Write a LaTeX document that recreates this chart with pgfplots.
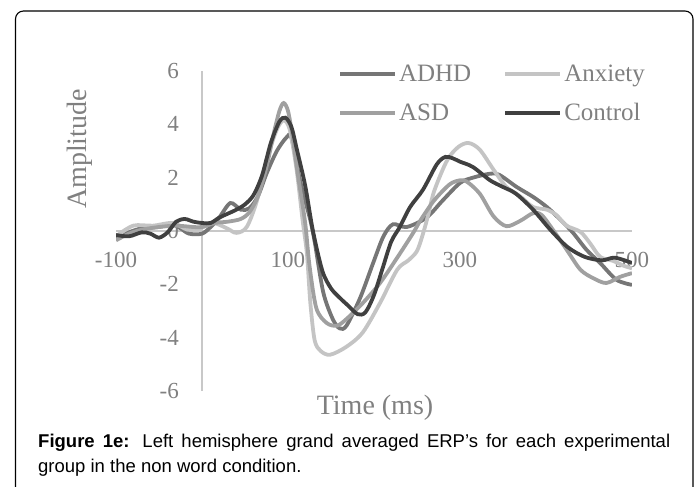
\documentclass[border=0pt]{standalone}
\usepackage{fontspec}
\setmainfont{Liberation Serif}
\newfontfamily\capfont{Liberation Sans}
\usepackage{pgfplots}
\usepackage{pgfplotstable}
\pgfplotsset{compat=1.18}

\definecolor{adhd}{HTML}{767676}
\definecolor{anx}{HTML}{C4C4C4}
\definecolor{asd}{HTML}{A0A0A0}
\definecolor{ctrl}{HTML}{404040}
\definecolor{labelgray}{HTML}{808080}
\definecolor{axisgray}{HTML}{C8C8C8}

% t (ms) vs amplitude
\pgfplotstableread{
t A
-100 -0.30
-85 -0.05
-70 0.10
-50 0.15
-35 0.25
-25 0.10
-15 -0.10
0 -0.10
10 0.15
20 0.50
33 1.05
45 0.80
55 0.85
65 1.30
75 2.15
87 3.00
98 3.50
104 3.50
114 1.90
126 0.40
131 -0.40
141 -2.30
152 -3.30
160 -3.65
168 -3.55
184 -2.50
199 -1.20
211 -0.20
222 0.25
238 0.15
261 0.50
280 1.15
300 1.80
315 2.00
335 2.15
346 2.10
366 1.65
385 1.28
401 0.90
416 0.45
431 -0.05
447 -0.70
463 -1.20
482 -1.83
500 -2.02
}\adhd

\pgfplotstableread{
t A
-100 -0.20
-80 0.20
-57 0.20
-34 0.30
-17 0.05
-2 0.10
13 0.30
29 0.10
40 -0.07
52 0.15
64 1.15
75 2.65
87 3.80
95 4.15
102 3.80
110 2.30
117 0.40
122 -0.85
126 -2.70
131 -4.10
138 -4.50
149 -4.64
168 -4.34
187 -3.80
207 -2.70
227 -1.45
240 -1.10
250 -0.75
257 -0.10
263 0.60
270 1.50
285 2.65
298 3.15
310 3.30
323 3.05
339 2.30
354 1.65
370 1.30
385 0.90
401 0.80
412 0.60
424 0.20
440 -0.03
451 -0.45
463 -0.97
478 -1.12
490 -1.30
500 -1.40
}\anxiety

\pgfplotstableread{
t A
-100 -0.35
-85 -0.10
-70 0.05
-50 0.15
-30 0.20
-10 0.15
0 0.15
15 0.30
30 0.35
45 0.45
55 0.70
65 1.30
75 2.40
83 3.60
90 4.50
95 4.80
100 4.50
105 3.60
112 2.00
120 0.30
125 -1.30
133 -2.90
145 -3.45
157 -3.55
168 -3.30
187 -2.70
207 -1.95
227 -1.00
245 -0.10
255 0.45
270 1.15
288 1.75
300 1.90
308 1.85
323 1.40
339 0.55
354 0.18
370 0.38
385 0.67
395 0.60
408 0.05
424 -0.70
440 -1.45
455 -1.77
470 -1.95
486 -1.72
500 -1.58
}\asd

\pgfplotstableread{
t A
-100 -0.15
-85 -0.20
-70 -0.05
-60 -0.10
-50 -0.25
-40 -0.05
-30 0.35
-20 0.45
-10 0.35
0 0.30
10 0.30
20 0.50
30 0.65
40 0.80
50 1.00
60 1.35
70 2.10
80 3.30
90 4.10
97 4.25
104 3.90
110 3.10
120 1.70
129 0.00
140 -1.50
150 -2.15
160 -2.50
170 -2.80
181 -3.12
190 -3.05
200 -2.40
210 -1.40
220 -0.40
230 0.15
242 0.90
257 1.55
273 2.50
283 2.78
292 2.72
300 2.60
315 2.40
335 1.90
350 1.65
365 1.40
385 0.80
405 0.05
425 -0.60
445 -0.97
465 -1.10
480 -1.00
500 -1.20
}\control

\begin{document}
\begin{tikzpicture}
\path[use as bounding box] (0pt,0pt) rectangle (699pt,-487pt);
\draw[line width=1.1pt, rounded corners=8pt] (15.5pt,-500pt) -- (15.5pt,-11pt) -- (693pt,-11pt) -- (693pt,-500pt);

\begin{axis}[
  at={(116pt,-391pt)}, anchor=south west,
  scale only axis, width=516pt, height=320pt,
  xmin=-100, xmax=500, ymin=-6, ymax=6,
  axis x line=center, axis y line=center,
  axis line style={draw=axisgray, line width=1.3pt, -},
  xtick={-100,100,300,500}, xticklabels={-100,100,300,500},
  ytick={-6,-4,-2,0,2,4,6}, yticklabels={-6,-4,-2,0,2,4,6},
  hide obscured x ticks=false, hide obscured y ticks=false,
  major tick length=0pt,
  tick label style={font=\fontsize{23}{23}\selectfont, text=labelgray, inner sep=0pt},
  xticklabel style={anchor=center, yshift=-29pt},
  yticklabel style={anchor=east, xshift=-23pt},
  xlabel={Time (ms)},
  xlabel style={at={(axis description cs:0.502,-0.053)}, anchor=center,
    font=\fontsize{28}{28}\selectfont, text=labelgray},
  ylabel={Amplitude},
  ylabel style={at={(axis description cs:-0.07,0.756)}, anchor=center, rotate=90,
    font=\fontsize{28}{28}\selectfont, text=labelgray},
  legend columns=2,
  legend style={at={(axis description cs:0.43,1.027)}, anchor=north west,
    draw=none, fill=none, font=\fontsize{25}{25}\selectfont, text=labelgray,
    row sep=17pt, inner sep=0pt,
    /tikz/every even column/.append style={column sep=30pt}},
  legend cell align=left,
  legend image code/.code={\draw[#1, line width=4pt] (0pt,0pt) -- (55pt,0pt);},
  every axis plot/.append style={line width=3.8pt, smooth},
]
\addplot[adhd] table[x=t, y=A] {\adhd};
\addlegendentry{ADHD}
\addplot[anx] table[x=t, y=A] {\anxiety};
\addlegendentry{Anxiety}
\addplot[asd] table[x=t, y=A] {\asd};
\addlegendentry{ASD}
\addplot[ctrl] table[x=t, y=A] {\control};
\addlegendentry{Control}
\end{axis}

\node[anchor=base west, inner sep=0pt, text width=632pt, align=justify,
  font=\capfont\fontsize{18.5}{25}\selectfont] at (38pt,-447pt)
  {\textbf{Figure 1e:} Left hemisphere grand averaged ERP’s for each experimental group in the non word condition.};
\end{tikzpicture}
\end{document}
